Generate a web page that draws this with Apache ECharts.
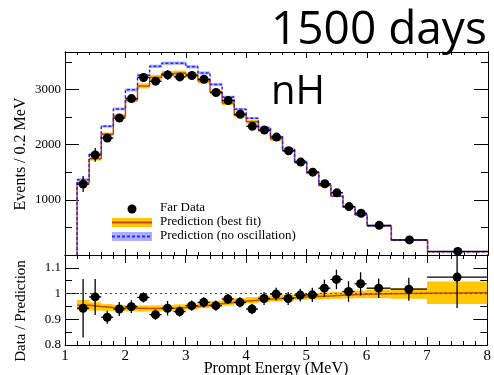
<!DOCTYPE html>
<html>
<head>
<meta charset="utf-8">
<script src="https://cdn.jsdelivr.net/npm/echarts@6/dist/echarts.min.js"></script>
<style>
  html, body { margin: 0; padding: 0; background: #fff; }
  #chart { width: 494px; height: 375px; }
</style>
</head>
<body>
<div id="chart"></div>
<script>
// bin edges (MeV) and bin centres
const binEdges = [1.2, 1.4, 1.6, 1.8, 2.0, 2.2, 2.4, 2.6, 2.8, 3.0, 3.2, 3.4, 3.6, 3.8,
  4.0, 4.2, 4.4, 4.6, 4.8, 5.0, 5.2, 5.4, 5.6, 5.8, 6.0, 6.4, 7.0, 8.0];
const binCenters = [1.3, 1.5, 1.7, 1.9, 2.1, 2.3, 2.5, 2.7, 2.9, 3.1, 3.3, 3.5, 3.7, 3.9,
  4.1, 4.3, 4.5, 4.7, 4.9, 5.1, 5.3, 5.5, 5.7, 5.9, 6.2, 6.7, 7.5];

// events / 0.2 MeV
const farData = [1285, 1815, 2120, 2484, 2836, 3218, 3151, 3265, 3229, 3255, 3185, 2945, 2800, 2551,
  2333, 2265, 2138, 1890, 1684, 1502, 1291, 1127, 878, 756, 538, 273, 65];
const farDataErr = [145, 125, 60, 65, 70, 65, 65, 90, 65, 65, 65, 60, 55, 50,
  45, 55, 55, 50, 45, 40, 42, 42, 35, 35, 20, 12, 8];
const bestFit = [1310, 1743, 2190, 2515, 2810, 3065, 3220, 3290, 3300, 3260, 3153, 2950, 2755, 2535,
  2416, 2258, 2101, 1896, 1678, 1488, 1259, 1067, 871, 728, 526, 268, 61];
const bestFitErr = [30, 30, 32, 35, 40, 45, 45, 45, 45, 45, 45, 40, 40, 35,
  35, 30, 30, 28, 25, 22, 20, 18, 15, 12, 10, 6, 3];
const noOsc = [1366, 1832, 2334, 2648, 2994, 3257, 3420, 3475, 3478, 3414, 3300, 3093, 2862, 2641,
  2480, 2309, 2142, 1927, 1700, 1505, 1270, 1075, 875, 730, 527, 268, 61];
const noOscErr = [25, 25, 25, 25, 28, 30, 30, 30, 30, 30, 28, 28, 25, 25,
  22, 22, 20, 20, 18, 16, 14, 12, 10, 9, 7, 5, 3];

// data / prediction
const ratioData = [0.943, 0.987, 0.908, 0.940, 0.949, 0.985, 0.918, 0.943, 0.930, 0.953, 0.966, 0.953, 0.979, 0.966,
  0.940, 0.981, 0.998, 0.981, 0.994, 0.995, 1.021, 1.055, 1.008, 1.038, 1.021, 1.017, 1.064];
const ratioErr = [0.114, 0.07, 0.025, 0.027, 0.025, 0.02, 0.02, 0.028, 0.02, 0.02, 0.02, 0.02, 0.02, 0.02,
  0.02, 0.025, 0.025, 0.025, 0.025, 0.028, 0.033, 0.038, 0.04, 0.045, 0.038, 0.045, 0.12];
const ratioBestFit = [0.955, 0.950, 0.946, 0.944, 0.943, 0.942, 0.942, 0.943, 0.946, 0.950, 0.955, 0.960, 0.965, 0.970,
  0.974, 0.978, 0.981, 0.984, 0.987, 0.989, 0.991, 0.993, 0.995, 0.997, 0.999, 1.001, 1.003];
const ratioBestFitErr = [0.02, 0.016, 0.013, 0.012, 0.012, 0.012, 0.012, 0.012, 0.012, 0.012, 0.012, 0.012, 0.012, 0.012,
  0.012, 0.012, 0.012, 0.012, 0.012, 0.012, 0.013, 0.013, 0.014, 0.015, 0.017, 0.021, 0.044];
const unity = 1;

const ORANGE_LINE = '#c44a1c';
const ORANGE_BAND = '#ffc800';
const BLUE_LINE = '#2828ff';
const BLUE_BAND = '#aab0ff';
const SERIF = '"Liberation Serif", "DejaVu Serif", serif';

const stepData = (vals, fromZero) => {
    const pts = fromZero ? [[binEdges[0], 0]] : [];
    vals.forEach((v, i) => pts.push([binEdges[i], v]));
    pts.push([binEdges[binEdges.length - 1], vals[vals.length - 1]]);
    return pts;
};

const stepLine = (vals, axis, color, type, z, fromZero) => ({
    type: 'line',
    xAxisIndex: axis.x,
    yAxisIndex: axis.y,
    step: 'end',
    symbol: 'none',
    data: stepData(vals, fromZero),
    lineStyle: { color: color, width: 1.5, type: type },
    z: z,
    silent: true
});

const band = (vals, errs, axis, color) => ({
    type: 'custom',
    xAxisIndex: axis.x,
    yAxisIndex: axis.y,
    clip: true,
    z: 1,
    data: vals.map((v, i) => [binEdges[i], binEdges[i + 1], v - errs[i], v + errs[i]]),
    encode: { x: [0, 1], y: [2, 3] },
    renderItem: function (params, api) {
        const p1 = api.coord([api.value(0), api.value(3)]);
        const p2 = api.coord([api.value(1), api.value(2)]);
        return {
            type: 'rect',
            shape: { x: p1[0], y: p1[1], width: p2[0] - p1[0], height: p2[1] - p1[1] },
            style: { fill: color }
        };
    }
});

const points = (vals, errs, axis) => ({
    type: 'custom',
    xAxisIndex: axis.x,
    yAxisIndex: axis.y,
    clip: true,
    z: 5,
    data: vals.map((v, i) => [binCenters[i], v, binEdges[i], binEdges[i + 1], v - errs[i], v + errs[i]]),
    encode: { x: 0, y: 1 },
    renderItem: function (params, api) {
        const c = api.coord([api.value(0), api.value(1)]);
        const l = api.coord([api.value(2), api.value(1)]);
        const r = api.coord([api.value(3), api.value(1)]);
        const lo = api.coord([api.value(0), api.value(4)]);
        const hi = api.coord([api.value(0), api.value(5)]);
        return {
            type: 'group',
            children: [
                { type: 'line', shape: { x1: l[0], y1: c[1], x2: r[0], y2: c[1] }, style: { stroke: '#000', lineWidth: 1.3 } },
                { type: 'line', shape: { x1: c[0], y1: hi[1], x2: c[0], y2: lo[1] }, style: { stroke: '#000', lineWidth: 1.3 } },
                { type: 'circle', shape: { cx: c[0], cy: c[1], r: 4.5 }, style: { fill: '#000' } }
            ]
        };
    }
});

const xAxisOf = (grid, position, showLabel, tickLen) => ({
    type: 'value',
    gridIndex: grid,
    position: position,
    min: 1,
    max: 8,
    interval: 1,
    axisLine: { show: true, onZero: false, lineStyle: { color: '#000', width: 1 } },
    axisTick: { show: true, inside: true, length: tickLen, lineStyle: { color: '#000' } },
    minorTick: { show: true, splitNumber: 5, length: tickLen / 2, lineStyle: { color: '#000' } },
    axisLabel: {
        show: showLabel, margin: 4, color: '#000', fontFamily: SERIF, fontSize: 15,
        showMinLabel: true, showMaxLabel: true
    },
    splitLine: { show: false }
});

const yAxisOf = (grid, position, min, max, interval, showLabel, tickLen, formatter) => ({
    type: 'value',
    gridIndex: grid,
    position: position,
    min: min,
    max: max,
    interval: interval,
    axisLine: { show: true, onZero: false, lineStyle: { color: '#000', width: 1 } },
    axisTick: { show: true, inside: true, length: tickLen, lineStyle: { color: '#000' } },
    axisLabel: { show: showLabel, margin: 4, color: '#000', fontFamily: SERIF, fontSize: 13, formatter: formatter },
    splitLine: { show: false }
});

const countLabel = (v) => (v > 0 && v % 1000 === 0 ? String(v) : '');
const ratioLabel = (v) => (v < 1.12 ? String(+v.toFixed(2)) : '');

const legend = () => [
    { type: 'circle', shape: { cx: 132, cy: 209, r: 4.5 }, style: { fill: '#000' } },
    { type: 'rect', shape: { x: 112, y: 218, width: 40, height: 9 }, style: { fill: ORANGE_BAND } },
    { type: 'line', shape: { x1: 112, y1: 222.5, x2: 152, y2: 222.5 }, style: { stroke: ORANGE_LINE, lineWidth: 2 } },
    { type: 'rect', shape: { x: 112, y: 232, width: 40, height: 9 }, style: { fill: BLUE_BAND } },
    { type: 'line', shape: { x1: 112, y1: 236.5, x2: 152, y2: 236.5 }, style: { stroke: BLUE_LINE, lineWidth: 2, lineDash: [3, 2] } },
    { type: 'text', x: 160, y: 208, style: { text: 'Far Data', font: '13px ' + SERIF, fill: '#000', verticalAlign: 'middle' } },
    { type: 'text', x: 160, y: 222, style: { text: 'Prediction (best fit)', font: '13px ' + SERIF, fill: '#000', verticalAlign: 'middle' } },
    { type: 'text', x: 160, y: 236, style: { text: 'Prediction (no oscillation)', font: '13px ' + SERIF, fill: '#000', verticalAlign: 'middle' } }
];

const labels = () => [
    { type: 'text', x: 271, y: 31, z: 10, style: { text: '1500 days', font: '46px "Open Sans"', fill: '#000', verticalAlign: 'middle' } },
    { type: 'text', x: 271, y: 93, z: 10, style: { text: 'nH', font: '40px "Open Sans"', fill: '#000', verticalAlign: 'middle' } },
    { type: 'text', x: 21, y: 154, rotation: Math.PI / 2, style: { text: 'Events / 0.2 MeV', font: '16px ' + SERIF, fill: '#000', align: 'center', verticalAlign: 'middle' } },
    { type: 'text', x: 21, y: 311, rotation: Math.PI / 2, style: { text: 'Data / Prediction', font: '15px ' + SERIF, fill: '#000', align: 'center', verticalAlign: 'middle' } },
    { type: 'text', x: 276, y: 369, style: { text: 'Prompt Energy (MeV)', font: '16px ' + SERIF, fill: '#000', align: 'center', verticalAlign: 'middle' } }
];

const TOP = { x: 0, y: 0 };
const LOW = { x: 2, y: 4 };

const chartOpt = () => ({
    animation: false,
    backgroundColor: '#fff',
    grid: [
        { left: 65, top: 52, width: 423, height: 203 },
        { left: 65, top: 255, width: 423, height: 90 }
    ],
    xAxis: [
        xAxisOf(0, 'bottom', false, 6),
        xAxisOf(0, 'top', false, 6),
        xAxisOf(1, 'bottom', true, 8),
        xAxisOf(1, 'top', false, 8)
    ],
    yAxis: [
        yAxisOf(0, 'left', 0, 3680, 1000, true, 14, countLabel),
        yAxisOf(0, 'left', 0, 3680, 500, false, 7),
        yAxisOf(0, 'right', 0, 3680, 1000, false, 14),
        yAxisOf(0, 'right', 0, 3680, 500, false, 7),
        yAxisOf(1, 'left', 0.8, 1.15, 0.1, true, 14, ratioLabel),
        yAxisOf(1, 'left', 0.8, 1.15, 0.05, false, 7),
        yAxisOf(1, 'right', 0.8, 1.15, 0.1, false, 14),
        yAxisOf(1, 'right', 0.8, 1.15, 0.05, false, 7)
    ],
    series: [
        band(noOsc, noOscErr, TOP, BLUE_BAND),
        band(bestFit, bestFitErr, TOP, ORANGE_BAND),
        stepLine(noOsc, TOP, BLUE_LINE, [3, 2], 3, true),
        stepLine(bestFit, TOP, ORANGE_LINE, 'solid', 2, true),
        points(farData, farDataErr, TOP),
        band(ratioBestFit, ratioBestFitErr, LOW, ORANGE_BAND),
        stepLine(ratioBestFit, LOW, ORANGE_LINE, 'solid', 2, false),
        {
            type: 'line', xAxisIndex: LOW.x, yAxisIndex: LOW.y, symbol: 'none', silent: true, z: 2,
            data: [[1, unity], [8, unity]],
            lineStyle: { color: '#444', width: 1, type: [2, 3] }
        },
        points(ratioData, ratioErr, LOW)
    ],
    graphic: legend().concat(labels())
});

const chart = echarts.init(document.getElementById('chart'));
chart.setOption(chartOpt());
</script>
</body>
</html>
